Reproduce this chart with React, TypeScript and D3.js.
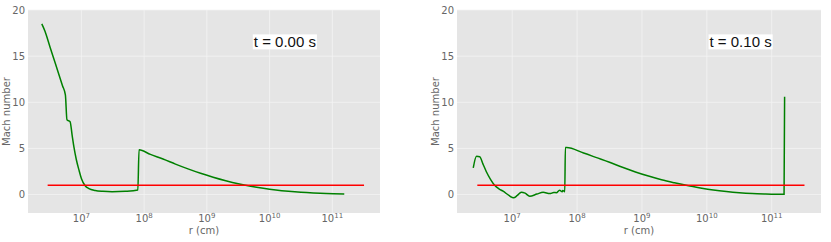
import { useEffect, useRef } from "react";
import * as d3 from "d3";

// Mach number profiles, [r (cm), Mach]
const machT0: [number, number][] = [
  [2.34e6, 18.5], [2.63e6, 17.7], [3.16e6, 16.0], [3.85e6, 14.2], [5.0e6, 11.8],
  [5.56e6, 10.8], [5.89e6, 8.1], [6.61e6, 7.9], [7.1e6, 6.5], [7.59e6, 5.2],
  [8.3e6, 3.8], [9.12e6, 2.7], [1.0e7, 1.75], [1.15e7, 0.95], [1.32e7, 0.65],
  [1.66e7, 0.45], [2.2e7, 0.35], [3.09e7, 0.3], [5.0e7, 0.35], [7.94e7, 0.5],
  [8.3e7, 4.85], [1.26e8, 4.35], [2.0e8, 3.85], [3.16e8, 3.3], [5.0e8, 2.78],
  [7.94e8, 2.3], [1.26e9, 1.88], [2.0e9, 1.5], [3.16e9, 1.17], [5.0e9, 0.9],
  [7.94e9, 0.68], [1.26e10, 0.5], [2.0e10, 0.36], [3.16e10, 0.25], [5.0e10, 0.17],
  [7.94e10, 0.11], [1.55e11, 0.07],
];

const machT1: [number, number][] = [
  [2.51e6, 2.9], [2.82e6, 4.15], [3.16e6, 4.1], [3.55e6, 3.3], [3.98e6, 2.5],
  [4.68e6, 1.6], [5.37e6, 1.0], [6.31e6, 0.6], [7.24e6, 0.36], [8.9e6, -0.1],
  [1.05e7, -0.36], [1.2e7, -0.1], [1.38e7, 0.25], [1.58e7, 0.15], [1.86e7, -0.18],
  [2.4e7, 0.05], [3.0e7, 0.25], [3.8e7, 0.1], [4.37e7, 0.22], [4.8e7, 0.2],
  [5.37e7, 0.47], [5.9e7, 0.3], [6.03e7, 0.45], [6.46e7, 0.3], [6.6e7, 5.1],
  [6.9e7, 5.1], [1.26e8, 4.5], [2.0e8, 4.0], [3.16e8, 3.5], [5.0e8, 2.95],
  [7.94e8, 2.45], [1.26e9, 2.0], [2.0e9, 1.6], [3.16e9, 1.27], [5.0e9, 0.97],
  [7.94e9, 0.72], [1.26e10, 0.5], [2.0e10, 0.33], [3.16e10, 0.2], [5.0e10, 0.11],
  [7.94e10, 0.06], [1.55e11, 0.02], [1.58e11, 10.6],
];

// sonic line M = 1
const sonicLine: [number, number][] = [[2.9e6, 1], [3.2e11, 1]];

const panelTimes = ["t = 0.00 s", "t = 0.10 s"];
// label anchor in data coords [r, Mach]
const labelPos: [number, number][] = [[5.6e9, 16.6], [1.1e10, 16.6]];

const xTicks = [1e7, 1e8, 1e9, 1e10, 1e11];
const yTicks = [0, 5, 10, 15, 20];
const xDomain: [number, number] = [1.41e6, 5.75e11];
const yDomain: [number, number] = [-2, 20];

const W = 831;
const H = 242;

export default function App() {
  const ref = useRef<SVGSVGElement | null>(null);

  useEffect(() => {
    const svg = d3.select(ref.current);
    svg.selectAll("*").remove();

    const panels = [
      { left: 28, right: 380, data: machT0 },
      { left: 457, right: 821, data: machT1 },
    ];
    const top = 10;
    const bottom = 213;
    const font = "DejaVu Sans, sans-serif";

    panels.forEach((p, i) => {
      const x = d3.scaleLog().domain(xDomain).range([p.left, p.right]);
      const y = d3.scaleLinear().domain(yDomain).range([bottom, top]);
      const g = svg.append("g");

      g.append("rect")
        .attr("x", p.left)
        .attr("y", top)
        .attr("width", p.right - p.left)
        .attr("height", bottom - top)
        .attr("fill", "#e5e5e5");

      // grid
      g.selectAll("line.gx")
        .data(xTicks)
        .enter()
        .append("line")
        .attr("x1", (d) => x(d))
        .attr("x2", (d) => x(d))
        .attr("y1", top)
        .attr("y2", bottom)
        .attr("stroke", "#f4f4f4")
        .attr("stroke-width", 0.8);
      g.selectAll("line.gy")
        .data(yTicks)
        .enter()
        .append("line")
        .attr("x1", p.left)
        .attr("x2", p.right)
        .attr("y1", (d) => y(d))
        .attr("y2", (d) => y(d))
        .attr("stroke", "#f4f4f4")
        .attr("stroke-width", 0.8);

      // y tick labels
      g.selectAll("text.yt")
        .data(yTicks)
        .enter()
        .append("text")
        .attr("x", p.left - 3)
        .attr("y", (d) => y(d) + 3.6)
        .attr("text-anchor", "end")
        .style("font-family", font)
        .style("font-size", "10px")
        .style("fill", "#666")
        .text((d) => d);

      // x tick labels 10^n
      const xt = g
        .selectAll("text.xt")
        .data(xTicks)
        .enter()
        .append("text")
        .attr("x", (d) => x(d))
        .attr("y", 222)
        .attr("text-anchor", "middle")
        .style("font-family", font)
        .style("font-size", "10px")
        .style("fill", "#666");
      xt.append("tspan").text("10");
      xt.append("tspan")
        .attr("dy", -4.5)
        .style("font-size", "7px")
        .text((d) => Math.round(Math.log10(d)));

      // axis labels
      g.append("text")
        .attr("x", (p.left + p.right) / 2)
        .attr("y", 234)
        .attr("text-anchor", "middle")
        .style("font-family", font)
        .style("font-size", "10px")
        .style("fill", "#666")
        .text("r (cm)");
      g.append("text")
        .attr("transform", `translate(${p.left - 18},${(top + bottom) / 2}) rotate(-90)`)
        .attr("text-anchor", "middle")
        .style("font-family", font)
        .style("font-size", "10px")
        .style("fill", "#666")
        .text("Mach number");

      const line = d3
        .line<[number, number]>()
        .x((d) => x(d[0]))
        .y((d) => y(d[1]))
        .curve(d3.curveMonotoneX);

      g.append("path")
        .attr("d", line(p.data))
        .attr("fill", "none")
        .attr("stroke", "#008000")
        .attr("stroke-width", 1.5);

      g.append("path")
        .attr("d", d3.line<[number, number]>().x((d) => x(d[0])).y((d) => y(d[1]))(sonicLine))
        .attr("fill", "none")
        .attr("stroke", "#ff0000")
        .attr("stroke-width", 1.5);

      // time label with white box
      const [lr, lm] = labelPos[i];
      const lbl = g.append("g");
      const box = lbl.append("rect").attr("fill", "#fff");
      const txt = lbl
        .append("text")
        .attr("x", x(lr))
        .attr("y", y(lm) + 5.5)
        .style("font-family", "Liberation Sans, Arial, sans-serif")
        .style("font-size", "15px")
        .style("fill", "#111")
        .text(panelTimes[i]);
      const bb = (txt.node() as SVGTextElement).getBBox();
      box
        .attr("x", bb.x - 1)
        .attr("y", bb.y + 1.5)
        .attr("width", bb.width + 2)
        .attr("height", bb.height - 2);
    });
  }, []);

  return (
    <div style={{ position: "absolute", left: 0, top: 0 }}>
      <svg ref={ref} width={W} height={H} style={{ display: "block", background: "#fff" }} />
    </div>
  );
}
